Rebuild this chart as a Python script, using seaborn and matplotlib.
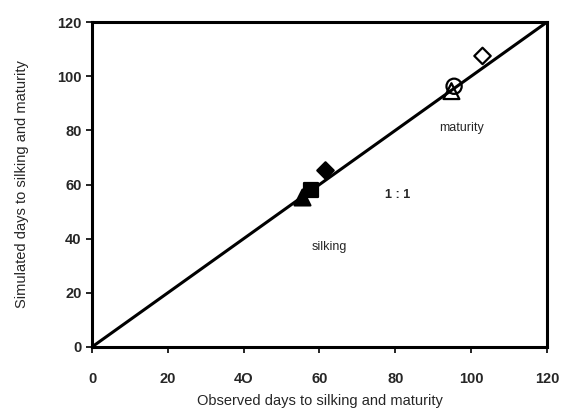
import matplotlib
matplotlib.use("Agg")
import matplotlib.pyplot as plt
import seaborn as sns
import pandas as pd

sns.set_theme(style="white")
plt.rcParams['font.family'] = ['Liberation Sans', 'DejaVu Sans']

# data
stages = ["silking", "silking", "silking", "maturity", "maturity", "maturity"]
cultivars = ["A", "B", "C", "A", "D", "C"]
observed = [55.5, 57.8, 61.5, 94.8, 95.5, 103.0]
simulated = [55.5, 57.8, 65.5, 94.5, 96.3, 107.5]
markers_list = ["^", "s", "D", "^", "o", "D"]
filled = [True, True, True, False, False, False]
line_x = [0, 120]
line_y = [0, 120]
xticks = [0, 20, 40, 60, 80, 100, 120]
xticklabels = ["0", "20", "4O", "60", "80", "100", "120"]
yticks = [0, 20, 40, 60, 80, 100, 120]

df = pd.DataFrame({"obs": observed, "sim": simulated, "m": markers_list, "f": filled})

fig = plt.figure(figsize=(5.61, 4.17), dpi=100)
ax = fig.add_axes([0.164, 0.168, 0.811, 0.779])

sns.lineplot(x=line_x, y=line_y, ax=ax, color="black", linewidth=2.2)

sizes = {"^": 130, "s": 110, "D": 70, "o": 120}
for i, r in df.iterrows():
    sub = df.loc[[i]]
    sns.scatterplot(data=sub, x="obs", y="sim", marker=r["m"], s=sizes[r["m"]],
                    color="black" if r["f"] else "none",
                    edgecolor="black", linewidth=1.6, ax=ax, zorder=3)

ax.text(80.7, 56, "1 : 1", fontsize=9, fontweight="bold", ha="center", va="center")
ax.text(62.5, 37, "silking", fontsize=9, ha="center", va="center")
ax.text(97.5, 81, "maturity", fontsize=9, ha="center", va="center")

ax.set_xlim(0, 120)
ax.set_ylim(0, 120)
ax.set_xticks(xticks)
ax.set_xticklabels(xticklabels, fontweight="bold")
ax.set_yticks(yticks)
ax.set_yticklabels([str(v) for v in yticks], fontweight="bold")
ax.tick_params(axis="both", direction="out", length=4, width=1.2, color="black",
               labelsize=10.5, bottom=True, left=True)
ax.tick_params(axis="x", pad=14)
for sp in ax.spines.values():
    sp.set_color("black")
    sp.set_linewidth(2.2)
ax.set_xlabel("Observed days to silking and maturity", fontsize=10.5, labelpad=6)
ax.set_ylabel("Simulated days to silking and maturity", fontsize=10.5, labelpad=20)

fig.savefig("out.png", dpi=100)
